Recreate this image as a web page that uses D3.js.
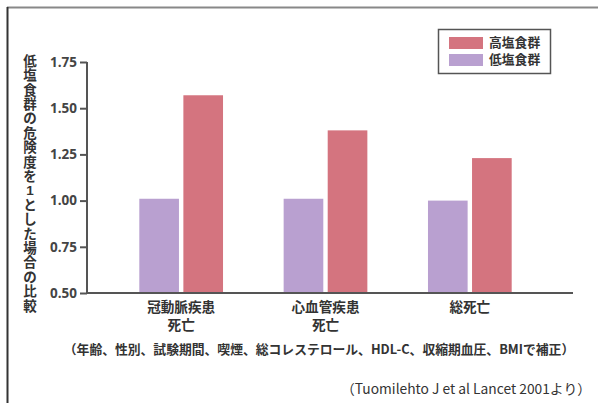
<!DOCTYPE html>
<html>
<head>
<meta charset="utf-8">
<script src="https://cdn.jsdelivr.net/npm/d3@7"></script>
<style>
  body { margin: 0; background: #fff; }
  text { font-family: "Noto Sans CJK JP", "Noto Sans", sans-serif; fill: #333; }
</style>
</head>
<body>
<svg class="chart"></svg>
<script>
var width = 598,
    height = 403;

// data
var categories = [["冠動脈疾患", "死亡"], ["心血管疾患", "死亡"], ["総死亡"]];
var seriesNames = ["低塩食群", "高塩食群"];
var lowSalt = [1.01, 1.01, 1.00];
var highSalt = [1.57, 1.38, 1.23];
var yTicks = [0.50, 0.75, 1.00, 1.25, 1.50, 1.75];
var yLabel = "低塩食群の危険度を1とした場合の比較";
var colors = ["#b9a0d0", "#d4747f"];

var chart = d3.select(".chart")
    .attr("width", width)
    .attr("height", height);

// frame lines
chart.append("line")
    .attr("x1", 7).attr("x2", width).attr("y1", 7.5).attr("y2", 7.5)
    .style("stroke", "#888").style("stroke-width", 2);
chart.append("line")
    .attr("x1", 7.5).attr("x2", 7.5).attr("y1", 7).attr("y2", height)
    .style("stroke", "#333").style("stroke-width", 2);

var y = d3.scaleLinear()
    .domain([0.5, 1.75])
    .range([293, 62]);

var x = d3.scaleBand()
    .domain(d3.range(categories.length))
    .range([109, 542])
    .paddingInner(0.42)
    .paddingOuter(0.21);

var x1 = d3.scaleBand()
    .domain([0, 1])
    .range([0, x.bandwidth()])
    .paddingInner(0.1);

var rows = categories.map(function(c, i) { return [lowSalt[i], highSalt[i]]; });

// y axis
var yAxis = chart.append("g")
    .attr("transform", "translate(87,0)")
    .call(d3.axisLeft(y).tickValues(yTicks).tickFormat(d3.format(".2f")).tickSize(7).tickPadding(3));
yAxis.select(".domain").style("stroke", "#555").style("stroke-width", 2)
    .attr("d", "M0," + y(1.75) + "V" + y(0.5));
yAxis.selectAll(".tick line").style("stroke", "#555").style("stroke-width", 2);
yAxis.selectAll(".tick text")
    .style("font-size", "13.5px")
    .style("font-weight", "bold")
    .style("font-family", "'Open Sans', sans-serif")
    .style("fill", "#444");

// baseline
chart.append("line")
    .attr("x1", 87).attr("x2", 573)
    .attr("y1", y(0.5)).attr("y2", y(0.5))
    .style("stroke", "#555").style("stroke-width", 2);

// bars
var group = chart.selectAll("g.group")
    .data(rows)
  .enter().append("g")
    .attr("class", "group")
    .attr("transform", function(d, i) { return "translate(" + x(i) + ",0)"; });

group.selectAll("rect")
    .data(function(d) { return d; })
  .enter().append("rect")
    .attr("x", function(d, j) { return x1(j); })
    .attr("y", function(d) { return y(d); })
    .attr("width", x1.bandwidth())
    .attr("height", function(d) { return y(0.5) - y(d) - 1; })
    .style("fill", function(d, j) { return colors[j]; });

// category labels
categories.forEach(function(lines, i) {
  lines.forEach(function(l, k) {
    chart.append("text")
      .attr("x", x(i) + x.bandwidth() / 2)
      .attr("y", 307.5 + k * 17.5)
      .attr("dy", ".35em")
      .style("text-anchor", "middle")
      .style("font-family", "'Liberation Sans', 'Noto Sans CJK JP', sans-serif")
      .style("font-size", "13.6px")
      .style("font-weight", "bold")
      .text(l);
  });
});

// y label, one character per slot (vertical writing)
var yl = chart.append("text")
    .style("text-anchor", "middle")
    .style("font-family", "'Liberation Sans', 'Noto Sans CJK JP', sans-serif")
    .style("font-size", "13.5px")
    .style("font-weight", "bold");
yLabel.split("").forEach(function(ch, k) {
  yl.append("tspan")
    .attr("x", 30)
    .attr("y", 61 + k * 14.4)
    .attr("dy", ".35em")
    .text(ch);
});

// legend
chart.append("rect")
    .attr("x", 438.5).attr("y", 29.5)
    .attr("width", 112).attr("height", 44)
    .style("fill", "none").style("stroke", "#555").style("stroke-width", 1.5);

var legendOrder = [1, 0];
legendOrder.forEach(function(s, k) {
  chart.append("rect")
      .attr("x", 449).attr("y", 37 + k * 17)
      .attr("width", 34).attr("height", 12)
      .style("fill", colors[s]);
  chart.append("text")
      .attr("x", 489).attr("y", 43 + k * 17)
      .attr("dy", ".35em")
      .style("font-family", "'Liberation Sans', 'Noto Sans CJK JP', sans-serif")
      .style("font-size", "12.8px")
      .style("font-weight", "bold")
      .text(seriesNames[s]);
});

// notes
chart.append("text")
    .attr("x", 319).attr("y", 350)
    .attr("dy", ".35em")
    .style("text-anchor", "middle")
    .style("font-size", "12.8px")
    .style("font-weight", "bold")
    .text("（年齢、性別、試験期間、喫煙、総コレステロール、HDL-C、収縮期血圧、BMIで補正）");

chart.append("text")
    .attr("x", 591).attr("y", 389)
    .attr("dy", ".35em")
    .style("text-anchor", "end")
    .style("font-size", "13.8px")
    .text("（Tuomilehto J et al Lancet 2001より）");
</script>
</body>
</html>
